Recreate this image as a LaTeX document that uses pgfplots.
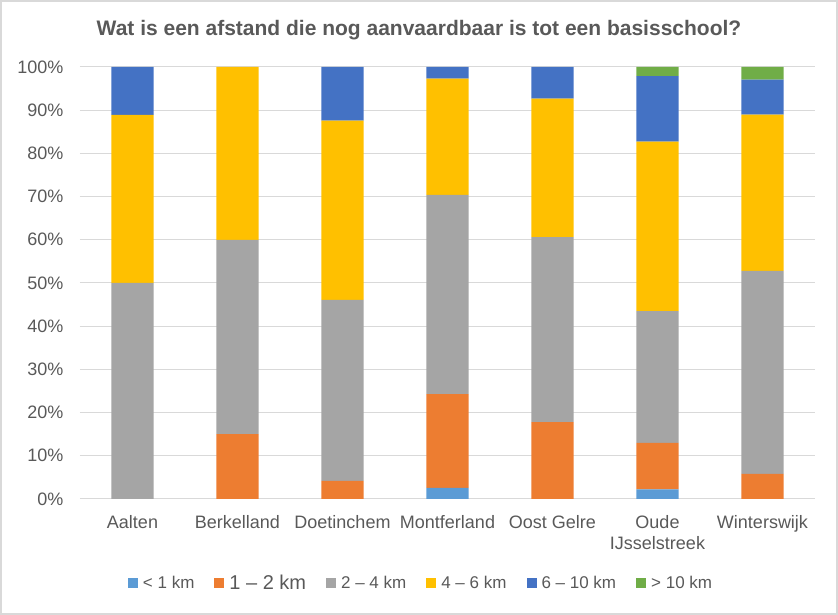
\documentclass[border=0pt]{standalone}
\usepackage{pgfplots}
\pgfplotsset{compat=1.18}
\usepackage{fontspec}
\setmainfont{Liberation Sans}
\definecolor{cA}{HTML}{5B9BD5}
\definecolor{cB}{HTML}{ED7D31}
\definecolor{cC}{HTML}{A5A5A5}
\definecolor{cD}{HTML}{FFC000}
\definecolor{cE}{HTML}{4472C4}
\definecolor{cF}{HTML}{70AD47}
\definecolor{txt}{HTML}{595959}
\definecolor{gridc}{HTML}{D9D9D9}
\begin{document}
\begin{tikzpicture}[x=1pt,y=1pt]
\draw[draw=gridc, line width=2pt] (1,1) rectangle (837,614);
\node[font=\fontsize{21}{24}\selectfont\bfseries, text=txt] at (419,585) {Wat is een afstand die nog aanvaardbaar is tot een basisschool?};
\begin{axis}[
  at={(80pt,116pt)}, anchor=south west,
  scale only axis, width=735pt, height=432pt,
  ybar stacked, bar width=42pt,
  xmin=-0.5, xmax=6.5, ymin=0, ymax=100,
  xtick={0,1,2,3,4,5,6},
  xticklabels={Aalten,Berkelland,Doetinchem,Montferland,Oost Gelre,{Oude\\IJsselstreek},Winterswijk},
  xticklabel style={align=center, font=\fontsize{18}{21}\selectfont, text=txt},
  ytick={0,10,...,100},
  yticklabel={\pgfmathprintnumber{\tick}\%},
  yticklabel style={font=\fontsize{18}{20}\selectfont, text=txt, xshift=-13pt},
  /pgf/number format/assume math mode=true,
  major tick length=0pt,
  ymajorgrids, grid style={draw=gridc, line width=1pt},
  axis lines*=left,
  y axis line style={draw=none},
  x axis line style={draw=gridc, line width=1pt, -},
  xticklabel shift=13pt,
  legend columns=6,
  legend style={at={(0.464,-0.195)}, anchor=center, draw=none, fill=none,
    font=\fontsize{17}{20}\selectfont, text=txt,
    /tikz/every odd column/.append style={column sep=3pt},
    /tikz/every even column/.append style={column sep=18pt}},
  legend image code/.code={\fill[#1] (0pt,-5pt) rectangle (10pt,5pt);},
]
\addplot[fill=cA, draw=none] coordinates {(0,0) (1,0) (2,0) (3,2.6) (4,0) (5,2.2) (6,0)};
\addplot[fill=cB, draw=none] coordinates {(0,0) (1,15) (2,4.2) (3,21.7) (4,17.8) (5,10.8) (6,5.8)};
\addplot[fill=cC, draw=none] coordinates {(0,50) (1,45) (2,41.9) (3,46.1) (4,42.8) (5,30.5) (6,47.0)};
\addplot[fill=cD, draw=none] coordinates {(0,38.9) (1,40) (2,41.5) (3,26.9) (4,32.1) (5,39.2) (6,36.2)};
\addplot[fill=cE, draw=none] coordinates {(0,11.1) (1,0) (2,12.4) (3,2.7) (4,7.3) (5,15.2) (6,8.1)};
\addplot[fill=cF, draw=none] coordinates {(0,0) (1,0) (2,0) (3,0) (4,0) (5,2.1) (6,2.9)};
\legend{{< 1 km},{\fontsize{20}{22}\selectfont 1 – 2 km},{2 – 4 km},{4 – 6 km},{6 – 10 km},{> 10 km}}
\end{axis}
\end{tikzpicture}
\end{document}
